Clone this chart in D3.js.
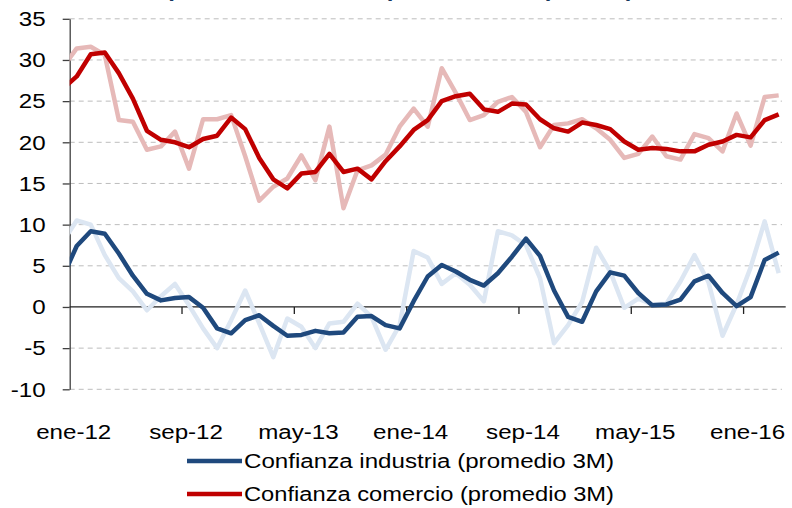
<!DOCTYPE html>
<html>
<head>
<meta charset="utf-8">
<script src="https://cdn.jsdelivr.net/npm/d3@7"></script>
<style>
	body {margin: 0; background: #fff;}
	svg {display: block; font-family: "Liberation Sans", Arial, sans-serif;}
</style>
</head>
<body>
<div id="chart"></div>
<script>
// months shown on the axis (dic-11 is only partly visible, cut by the y axis)
const MONTHS = ["dic-11",
	"ene-12","feb-12","mar-12","abr-12","may-12","jun-12","jul-12","ago-12","sep-12","oct-12","nov-12","dic-12",
	"ene-13","feb-13","mar-13","abr-13","may-13","jun-13","jul-13","ago-13","sep-13","oct-13","nov-13","dic-13",
	"ene-14","feb-14","mar-14","abr-14","may-14","jun-14","jul-14","ago-14","sep-14","oct-14","nov-14","dic-14",
	"ene-15","feb-15","mar-15","abr-15","may-15","jun-15","jul-15","ago-15","sep-15","oct-15","nov-15","dic-15",
	"ene-16","feb-16","mar-16"];

const TICK_LABELS = ["ene-12","sep-12","may-13","ene-14","sep-14","may-15","ene-16"];
const Y_TICKS = [-10,-5,0,5,10,15,20,25,30,35];

// series values
const INDUSTRIA_MES = [7.9,
	10.5,10.0,6.3,3.5,1.9,-0.4,1.3,2.8,0.2,-2.6,-5.0,-1.6,
	2.0,-2.0,-6.1,-1.4,-2.4,-5.0,-2.0,-1.8,0.4,-1.2,-5.2,-2.2,
	6.8,6.0,2.8,4.1,2.7,0.7,9.2,8.7,7.5,3.5,-4.4,-2.2,
	0.6,7.2,4.3,-0.1,1.0,0.3,0.4,3.1,6.3,3.0,-3.5,0.3,
	4.8,10.4,4.1];
const COMERCIO_MES = [29.1,
	31.4,31.6,30.6,22.7,22.5,19.1,19.5,21.3,16.8,22.8,22.8,23.3,
	18.3,12.9,14.6,15.6,18.4,15.4,21.9,12.0,16.6,17.2,18.5,21.9,
	24.1,21.9,29.0,26.0,22.7,23.3,24.9,25.5,23.7,19.4,22.1,22.3,
	22.8,21.7,20.3,18.1,18.6,20.7,18.3,17.9,21.0,20.5,18.9,23.5,
	19.6,25.5,25.7];
const INDUSTRIA_3M = [3.6,
	7.4,9.2,8.9,6.5,3.8,1.6,0.8,1.1,1.2,-0.1,-2.6,-3.2,
	-1.6,-1.0,-2.3,-3.5,-3.4,-2.9,-3.2,-3.1,-1.2,-1.1,-2.2,-2.6,
	0.7,3.7,5.1,4.3,3.3,2.6,4.1,6.1,8.3,6.2,2.0,-1.2,
	-1.8,1.9,4.2,3.8,1.7,0.2,0.3,0.9,3.1,3.8,1.7,0.1,
	1.2,5.7,6.6];
const COMERCIO_3M = [26.5,
	28.0,30.7,30.9,28.4,25.3,21.4,20.3,20.0,19.4,20.4,20.8,23.0,
	21.6,18.1,15.5,14.4,16.2,16.4,18.6,16.4,16.8,15.5,17.7,19.5,
	21.5,22.7,25.0,25.6,25.9,24.0,23.7,24.7,24.6,22.8,21.7,21.3,
	22.4,22.1,21.6,20.1,19.1,19.3,19.2,18.9,18.9,19.7,20.1,20.9,
	20.6,22.7,23.4];

const LEGEND = ["Confianza industria (promedio 3M)", "Confianza comercio (promedio 3M)"];
// title words, the title itself is cut off by the top edge
const TITLE_WORDS = ["Expectativas", "empresariales", "(saldos)"];

// frame
const FRAME_WIDTH = 792;
const FRAME_HEIGHT = 508;
const PLOT = {left: 69.7, right: 785.7, top: 18.8, bottom: 389.3};
const STEP = (PLOT.right - PLOT.left) / (MONTHS.length - 1);
const STRETCH = 1.15; // the original text is a bit wide

const COLORS = {indMes: "#dce6f2", comMes: "#e6b9b8", ind3m: "#1f497d", com3m: "#c00000"};

const FRAME = d3.select("#chart")
	.append("svg")
		.attr("width", FRAME_WIDTH)
		.attr("height", FRAME_HEIGHT);

// scales
const X = d3.scalePoint()
	.domain(MONTHS)
	.range([PLOT.left - STEP / 2, PLOT.right - STEP / 2]);

const Y = d3.scaleLinear()
	.domain([-10, 35])
	.range([PLOT.bottom, PLOT.top]);

// title, only the descenders show
const title = FRAME.append("text")
	.attr("y", -4.5)
	.attr("font-size", 24)
	.attr("font-weight", "bold")
	.attr("fill", "#17375e");

title.selectAll("tspan")
	.data(TITLE_WORDS)
	.enter()
	.append("tspan")
		.attr("x", (d, i) => [139, 352, 542][i])
		.text((d) => d);

// dashed gridlines
FRAME.append("g")
	.selectAll("line")
	.data(Y_TICKS.filter((d) => d !== 0))
	.enter()
	.append("line")
		.attr("x1", PLOT.left)
		.attr("x2", 782)
		.attr("y1", (d) => Y(d))
		.attr("y2", (d) => Y(d))
		.attr("stroke", "#bdbdbd")
		.attr("stroke-width", 1)
		.attr("stroke-dasharray", "5,4");

// y axis
const yAxis = FRAME.append("g")
	.attr("transform", "translate(" + PLOT.left + ",0)")
	.call(d3.axisLeft(Y)
		.tickValues(Y_TICKS)
		.tickFormat((d) => String(d))
		.tickSize(7)
		.tickPadding(17)
		.tickSizeOuter(0));

yAxis.select(".domain").attr("stroke", "#404040").attr("stroke-width", 1.3);
yAxis.selectAll(".tick line").attr("stroke", "#404040").attr("stroke-width", 1.3);
yAxis.selectAll(".tick text")
	.attr("font-size", 21)
	.attr("font-family", "Liberation Sans, Arial, sans-serif")
	.attr("fill", "#000")
	.attr("x", -24 / STRETCH)
	.attr("transform", "scale(" + STRETCH + ",1)");

// x axis line at zero, ticks between categories
FRAME.append("line")
	.attr("x1", PLOT.left)
	.attr("x2", PLOT.right)
	.attr("y1", Y(0))
	.attr("y2", Y(0))
	.attr("stroke", "#202020")
	.attr("stroke-width", 1.3);

FRAME.append("g")
	.selectAll("line")
	.data(TICK_LABELS.slice(1))
	.enter()
	.append("line")
		.attr("x1", (d) => X(d) - STEP / 2)
		.attr("x2", (d) => X(d) - STEP / 2)
		.attr("y1", Y(0))
		.attr("y2", Y(0) + 7)
		.attr("stroke", "#202020")
		.attr("stroke-width", 1.3);

FRAME.append("g")
	.selectAll("text")
	.data(TICK_LABELS)
	.enter()
	.append("text")
		.attr("transform", (d) => "translate(" + (X(d) - 3) + ",439) scale(" + STRETCH + ",1)")
		.attr("text-anchor", "middle")
		.attr("font-size", 21)
		.attr("fill", "#000")
		.text((d) => d);

// lines
FRAME.append("clipPath").attr("id", "plotclip")
	.append("rect")
		.attr("x", PLOT.left)
		.attr("y", 0)
		.attr("width", PLOT.right - PLOT.left)
		.attr("height", FRAME_HEIGHT);

const line = d3.line()
	.x((d, i) => X(MONTHS[i]))
	.y((d) => Y(d));

const SERIES = [
	{values: INDUSTRIA_MES, color: COLORS.indMes},
	{values: COMERCIO_MES, color: COLORS.comMes},
	{values: INDUSTRIA_3M, color: COLORS.ind3m},
	{values: COMERCIO_3M, color: COLORS.com3m}
];

FRAME.append("g")
	.attr("clip-path", "url(#plotclip)")
	.selectAll("path")
	.data(SERIES)
	.enter()
	.append("path")
		.attr("d", (d) => line(d.values))
		.attr("fill", "none")
		.attr("stroke", (d) => d.color)
		.attr("stroke-width", 4.5)
		.attr("stroke-linejoin", "round");

// legend
const legend = FRAME.append("g")
	.selectAll("g")
	.data([{label: LEGEND[0], color: COLORS.ind3m}, {label: LEGEND[1], color: COLORS.com3m}])
	.enter()
	.append("g")
		.attr("transform", (d, i) => "translate(0," + (461 + i * 33) + ")");

legend.append("line")
	.attr("x1", 187)
	.attr("x2", 242)
	.attr("stroke", (d) => d.color)
	.attr("stroke-width", 4.5);

legend.append("text")
	.attr("x", 244)
	.attr("y", 7)
	.attr("font-size", 20)
	.attr("textLength", 370)
	.attr("lengthAdjust", "spacingAndGlyphs")
	.attr("fill", "#000")
	.text((d) => d.label);
</script>
</body>
</html>
